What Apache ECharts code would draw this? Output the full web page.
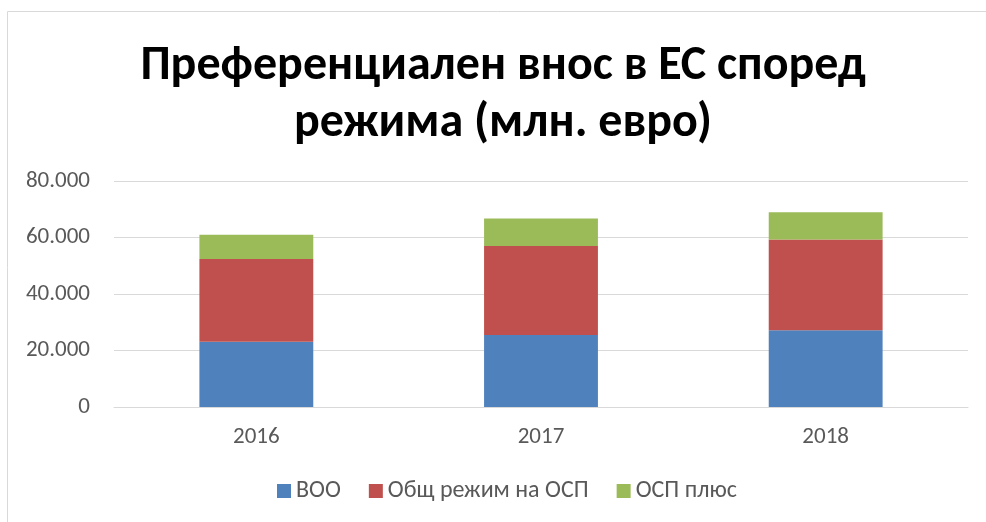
<!DOCTYPE html>
<html>
<head>
<meta charset="utf-8">
<script src="https://cdn.jsdelivr.net/npm/echarts@6/dist/echarts.min.js"></script>
<style>
  html, body { margin: 0; padding: 0; background: #fff; }
  #main { width: 986px; height: 522px; }
</style>
</head>
<body>
<div id="main"></div>
<script>
var years = ['2016', '2017', '2018'];
var seriesNames = ['ВОО', 'Общ режим на ОСП', 'ОСП плюс'];
var vooValues = [23100, 25500, 27200];
var generalValues = [29300, 31500, 32100];
var plusValues = [8600, 9700, 9600];
var colors = ['#4f81bd', '#c0504d', '#9bbb59'];
var titleText = 'Преференциален внос в ЕС според\nрежима (млн. евро)';

function fmt(v) {
  // Bulgarian style thousands separator
  return String(v).replace(/\B(?=(\d{3})+(?!\d))/g, '.');
}

var chart = echarts.init(document.getElementById('main'));
var font = 'Carlito, "Liberation Sans Narrow", "Open Sans", sans-serif';

var option = {
  animation: false,
  color: colors,
  graphic: [{
    type: 'rect',
    shape: { x: 7.5, y: 11.5, width: 1000, height: 600 },
    style: { fill: 'none', stroke: '#d9d9d9', lineWidth: 1 },
    silent: true,
    z: -1
  }, {
    type: 'text',
    x: 503,
    y: 38,
    silent: true,
    style: {
      text: titleText,
      align: 'center',
      verticalAlign: 'top',
      fontFamily: font,
      fontWeight: 'bold',
      fontSize: 48,
      lineHeight: 57,
      fill: '#000'
    }
  }],
  legend: {
    bottom: 14,
    left: 272,
    itemWidth: 14,
    itemHeight: 14,
    itemGap: 28,
    icon: 'rect',
    textStyle: { fontFamily: font, fontSize: 24, color: '#595959' },
    data: seriesNames
  },
  grid: { left: 114, right: 18, top: 181, bottom: 115, containLabel: false },
  xAxis: {
    type: 'category',
    data: years,
    axisTick: { show: false },
    axisLine: { lineStyle: { color: '#d9d9d9', width: 1 } },
    axisLabel: { color: '#595959', fontFamily: font, fontSize: 23, margin: 19 }
  },
  yAxis: {
    type: 'value',
    min: 0,
    max: 80000,
    interval: 20000,
    axisLine: { show: false },
    axisTick: { show: false },
    splitLine: { lineStyle: { color: '#d9d9d9', width: 1 } },
    axisLabel: {
      color: '#595959',
      fontFamily: font,
      fontSize: 23,
      margin: 24,
      formatter: fmt
    }
  },
  series: [
    { name: seriesNames[0], type: 'bar', stack: 'total', barWidth: '40%', data: vooValues },
    { name: seriesNames[1], type: 'bar', stack: 'total', barWidth: '40%', data: generalValues },
    { name: seriesNames[2], type: 'bar', stack: 'total', barWidth: '40%', data: plusValues }
  ]
};
chart.setOption(option);
</script>
</body>
</html>
